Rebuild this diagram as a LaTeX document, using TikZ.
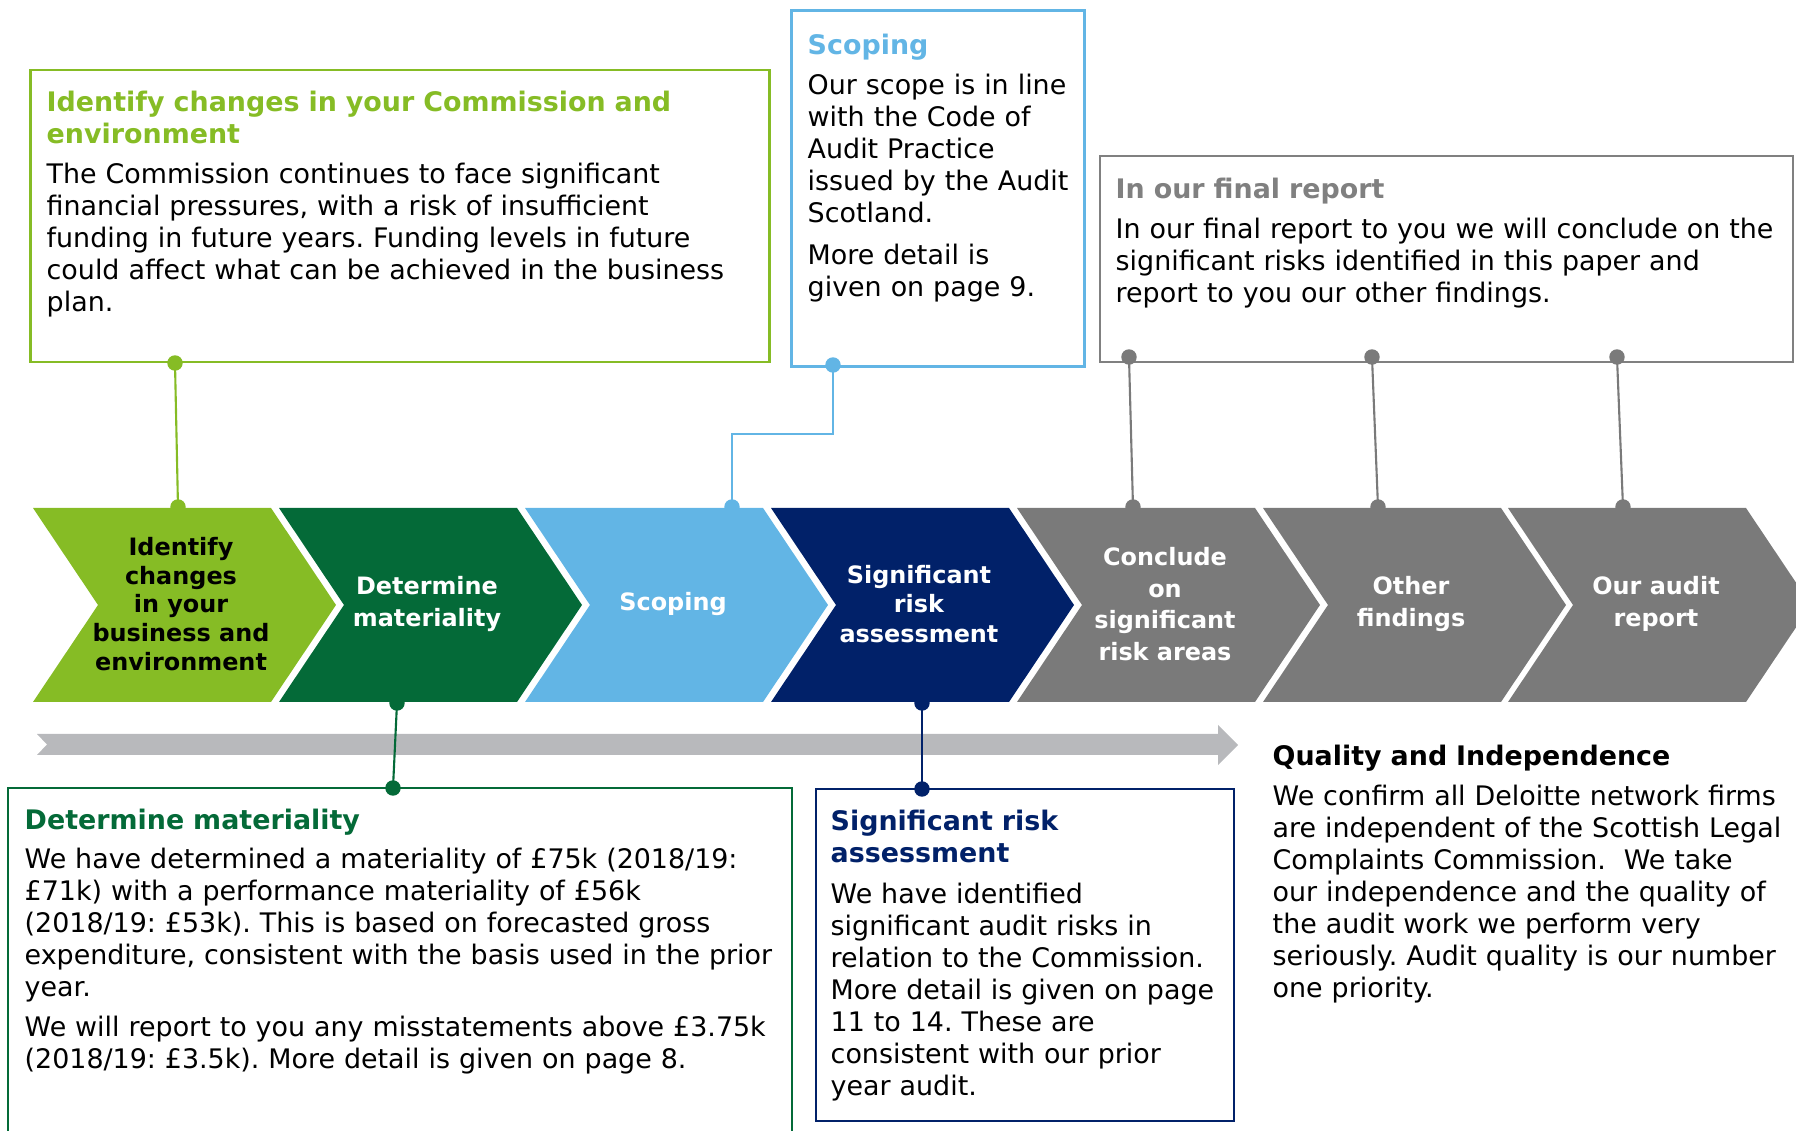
\documentclass[tikz,border=0pt]{standalone}
\usepackage{fontspec}
\setmainfont{DejaVu Sans}
\usepackage{xcolor}
\frenchspacing

\definecolor{lgreen}{HTML}{86BC25}
\definecolor{dgreen}{HTML}{046A38}
\definecolor{lblue}{HTML}{62B5E5}
\definecolor{navy}{HTML}{012169}
\definecolor{midgray}{HTML}{7A7A7A}
\definecolor{bargray}{HTML}{B8B9BC}

\begin{document}
\begin{tikzpicture}[x=0.01cm, y=-0.01cm,
  box/.style={draw, line width=0.7pt, inner sep=0pt},
  txt/.style={anchor=base west, inner sep=0pt, align=left, font=\fontsize{7.65}{9.1}\selectfont},
  chevtxt/.style={align=center, inner sep=0pt},
  pin/.style={line width=0.6pt},
  dot/.style={radius=2.2pt}
]

\useasboundingbox (0,0) rectangle (1796,1131);

% process chevrons
\foreach \x/\col/\tcol/\ls/\nm/\txt in {
  33/lgreen/black/8.15/chA/{Identify\\changes\\in your\\business and\\environment},
  279/dgreen/white/9.1/chB/{Determine\\materiality},
  525/lblue/white/9.1/chC/{Scoping},
  771/navy/white/8.3/chD/{Significant\\risk\\assessment},
  1017/midgray/white/9.0/chE/{Conclude\\on\\significant\\risk areas},
  1263/midgray/white/9.1/chF/{Other\\findings},
  1508/midgray/white/9.1/chG/{Our audit\\report}}
{
  \fill[\col] (\x,508) -- ++(238,0) -- ++(65,97) -- ++(-65,97) -- ++(-238,0) -- ++(65,-97) -- cycle;
  \node[chevtxt, text=\tcol, font=\bfseries\fontsize{6.8}{\ls}\selectfont] (\nm) at (\x+148,604) {\txt};
}

% timeline bar
\fill[bargray] (37,734) -- (1218,734) -- (1218,725) -- (1238,745) -- (1218,765) -- (1218,755) -- (37,755) -- (47,744.5) -- cycle;

% boxes
\node[box, lgreen, minimum width=7.39cm, minimum height=2.92cm] (idbox) at (400,216) {};
\node[box, lblue, minimum width=2.925cm, minimum height=3.56cm] (scbox) at (938,188.5) {};
\node[box, gray, minimum width=6.93cm, minimum height=2.06cm] (frbox) at (1446.5,259) {};
\node[box, dgreen, minimum width=7.84cm, minimum height=3.7cm] (dmbox) at (400,973) {};
\node[box, navy, minimum width=4.18cm, minimum height=3.32cm] (sabox) at (1025,955) {};

% texts
\node[txt, text width=7.3cm] (idtxt) at (46,112)
{{\bfseries\color{lgreen}Identify changes in your Commission and\\environment}\\[2.1pt]
The Commission continues to face significant\\financial pressures, with a risk of insufficient\\funding in future years. Funding levels in future\\could affect what can be achieved in the business\\plan.};

\node[txt, text width=2.8cm] (sctxt) at (807,54.5)
{{\bfseries\color{lblue}Scoping}\\[2.3pt]
Our scope is in line\\with the Code of\\Audit Practice\\issued by the Audit\\Scotland.\\[2.8pt]
More detail is\\given on page 9.};

\node[txt, text width=6.9cm] (frtxt) at (1115,199)
{{\bfseries\color{gray}In our final report}\\[2.2pt]
In our final report to you we will conclude on the\\significant risks identified in this paper and\\report to you our other findings.};

\node[txt, text width=7.8cm] (dmtxt) at (24,830)
{{\bfseries\color{dgreen}Determine materiality}\\[1.9pt]
We have determined a materiality of £75k (2018/19:\\£71k) with a performance materiality of £56k\\(2018/19: £53k). This is based on forecasted gross\\expenditure, consistent with the basis used in the prior\\year.\\[2.2pt]
We will report to you any misstatements above £3.75k\\(2018/19: £3.5k). More detail is given on page 8.};

\node[txt, text width=4.1cm] (satxt) at (830,831)
{{\bfseries\color{navy}Significant risk\\assessment}\\[2.3pt]
We have identified\\significant audit risks in\\relation to the Commission.\\More detail is given on page\\11 to 14. These are\\consistent with our prior\\year audit.};

\node[txt, text width=5.3cm] (qitxt) at (1272,766)
{{\bfseries Quality and Independence}\\[2.0pt]
We confirm all Deloitte network firms\\are independent of the Scottish Legal\\Complaints Commission.\ \ We take\\our independence and the quality of\\the audit work we perform very\\seriously. Audit quality is our number\\one priority.};

% pins
\coordinate (idpin) at (175,363);
\coordinate (chApin) at (178,507);
\coordinate (scpin) at (833,365);
\coordinate (chCpin) at (732,507);
\coordinate (chBpin) at (397,703);
\coordinate (dmpin) at (393,788);
\coordinate (chDpin) at (922,703);
\coordinate (sapin) at (922,789);
\coordinate (frpinA) at (1129,357);
\coordinate (frpinB) at (1372,357);
\coordinate (frpinC) at (1617,357);
\coordinate (chEpin) at (1133,507);
\coordinate (chFpin) at (1378,507);
\coordinate (chGpin) at (1623,507);

% connectors
\draw[pin, lgreen] (idpin) -- (chApin);
\fill[lgreen] (idpin) circle[dot] (chApin) circle[dot];

\draw[pin, lblue] (scpin) -- ++(0,69) -| (chCpin);
\fill[lblue] (scpin) circle[dot] (chCpin) circle[dot];

\draw[pin, dgreen] (chBpin) -- (dmpin);
\fill[dgreen] (chBpin) circle[dot] (dmpin) circle[dot];

\draw[pin, navy] (chDpin) -- (sapin);
\fill[navy] (chDpin) circle[dot] (sapin) circle[dot];

\foreach \a/\b in {frpinA/chEpin, frpinB/chFpin, frpinC/chGpin}
{
  \draw[pin, midgray] (\a) -- (\b);
  \fill[midgray] (\a) circle[dot] (\b) circle[dot];
}

\end{tikzpicture}
\end{document}
